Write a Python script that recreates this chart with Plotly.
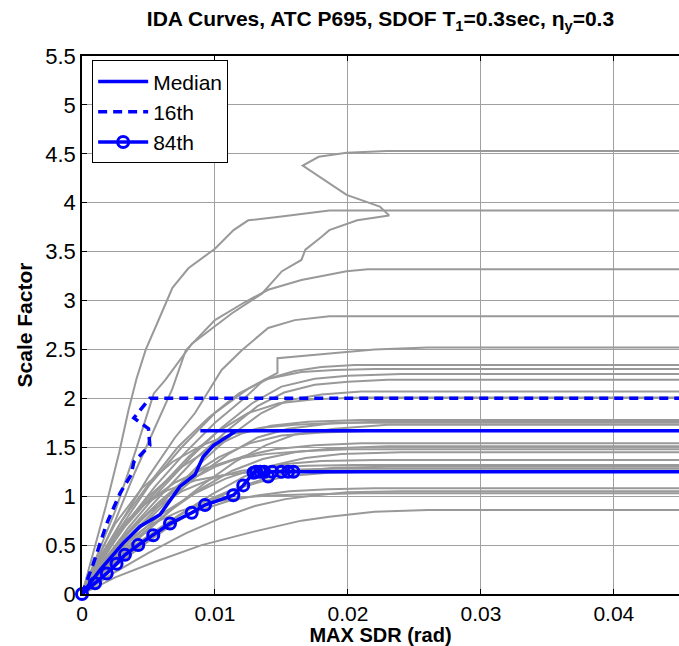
import plotly.graph_objects as go

# ---------------- data ----------------
TITLE = "<b>IDA Curves, ATC P695, SDOF T<sub>1</sub>=0.3sec, η<sub>y</sub>=0.3</b>"
X_LABEL = "<b>MAX SDR (rad)</b>"
Y_LABEL = "<b>Scale Factor</b>"
X_TICKS = [0, 0.01, 0.02, 0.03, 0.04]
X_TICK_TEXT = ["0", "0.01", "0.02", "0.03", "0.04"]
Y_TICKS = [0, 0.5, 1, 1.5, 2, 2.5, 3, 3.5, 4, 4.5, 5, 5.5]
Y_TICK_TEXT = ["0", "0.5", "1", "1.5", "2", "2.5", "3", "3.5", "4", "4.5", "5", "5.5"]

# individual record IDA curves (max SDR, scale factor)
GRAY_X = [
    [0, 0.0008, 0.0018, 0.0028, 0.0035, 0.0041, 0.0048, 0.0056, 0.0062, 0.0068, 0.008, 0.010, 0.0114, 0.0125, 0.015, 0.018, 0.0186, 0.05],
    [0, 0.001, 0.0025, 0.004, 0.0054, 0.00627, 0.00827, 0.01128, 0.01353, 0.01504, 0.0165, 0.0168, 0.018, 0.0186, 0.0207, 0.0231, 0.0224, 0.0199, 0.0166, 0.0178, 0.0199, 0.0229, 0.05],
    [0, 0.001, 0.0025, 0.004, 0.0055, 0.0068, 0.0078, 0.010, 0.0122, 0.014, 0.0165, 0.018, 0.0199, 0.0215, 0.05],
    [0, 0.0012, 0.003, 0.005, 0.007, 0.0085, 0.010, 0.0105, 0.012, 0.014, 0.016, 0.018, 0.0186, 0.05],
    [0, 0.0012, 0.003, 0.005, 0.0075, 0.010, 0.0125, 0.0147, 0.0147, 0.018, 0.022, 0.026, 0.05],
    [0, 0.0013, 0.0032, 0.0055, 0.0078, 0.0100, 0.0122, 0.0137, 0.0160, 0.0180, 0.0205, 0.05],
    [0, 0.0011, 0.003, 0.005, 0.0072, 0.0095, 0.0118, 0.014, 0.0165, 0.019, 0.022, 0.05],
    [0, 0.0015, 0.0035, 0.0058, 0.0082, 0.0105, 0.0128, 0.015, 0.0175, 0.02, 0.024, 0.05],
    [0, 0.0014, 0.0036, 0.006, 0.0085, 0.011, 0.0132, 0.0152, 0.0175, 0.02, 0.023, 0.05],
    [0, 0.0016, 0.004, 0.0065, 0.009, 0.0112, 0.0135, 0.0155, 0.018, 0.021, 0.05],
    [0, 0.0012, 0.0033, 0.0056, 0.008, 0.0102, 0.0125, 0.0148, 0.0175, 0.021, 0.05],
    [0, 0.0012, 0.003, 0.0052, 0.0075, 0.0098, 0.012, 0.0142, 0.017, 0.021, 0.05],
    [0, 0.0016, 0.0038, 0.0062, 0.0086, 0.011, 0.0132, 0.0155, 0.0185, 0.022, 0.05],
    [0, 0.0009, 0.0025, 0.0045, 0.0068, 0.009, 0.0112, 0.0135, 0.016, 0.0195, 0.05],
    [0, 0.0018, 0.0042, 0.0068, 0.0092, 0.0115, 0.0138, 0.016, 0.019, 0.023, 0.05],
    [0, 0.0014, 0.0035, 0.0058, 0.008, 0.0103, 0.0126, 0.015, 0.018, 0.022, 0.05],
    [0, 0.0013, 0.0032, 0.0055, 0.0078, 0.01, 0.0122, 0.0145, 0.0175, 0.021, 0.05],
    [0, 0.0017, 0.004, 0.0065, 0.009, 0.0113, 0.0136, 0.016, 0.019, 0.023, 0.05],
    [0, 0.001, 0.0027, 0.0048, 0.007, 0.0092, 0.0115, 0.0138, 0.0165, 0.02, 0.05],
    [0, 0.002, 0.0045, 0.0072, 0.0098, 0.0122, 0.0145, 0.0168, 0.0195, 0.024, 0.05],
    [0, 0.0015, 0.0036, 0.006, 0.0085, 0.0108, 0.013, 0.0153, 0.018, 0.022, 0.05],
    [0, 0.0012, 0.003, 0.0052, 0.0075, 0.0098, 0.012, 0.0142, 0.017, 0.0205, 0.05],
    [0, 0.0019, 0.0044, 0.007, 0.0095, 0.0118, 0.0142, 0.0165, 0.019, 0.023, 0.05],
    [0, 0.0009, 0.0024, 0.0043, 0.0064, 0.0085, 0.0108, 0.013, 0.0155, 0.019, 0.05],
    [0, 0.0016, 0.0038, 0.0063, 0.0088, 0.0112, 0.0135, 0.0158, 0.0185, 0.022, 0.05],
    [0, 0.0014, 0.0035, 0.006, 0.0085, 0.011, 0.0133, 0.0156, 0.0185, 0.022, 0.05],
    [0, 0.0022, 0.005, 0.0078, 0.0105, 0.013, 0.0153, 0.0176, 0.02, 0.024, 0.05],
    [0, 0.0011, 0.0028, 0.005, 0.0074, 0.0098, 0.0122, 0.0146, 0.0175, 0.021, 0.05],
    [0, 0.0025, 0.0055, 0.009, 0.013, 0.0165, 0.0186, 0.022, 0.026, 0.05],
]
GRAY_Y = [
    [0, 0.4, 0.9, 1.45, 1.88, 2.2, 2.5, 2.75, 2.95, 3.13, 3.33, 3.53, 3.72, 3.82, 3.86, 3.91, 3.92, 3.92],
    [0, 0.35, 0.85, 1.45, 2.05, 2.19, 2.56, 2.87, 3.07, 3.30, 3.415, 3.52, 3.65, 3.72, 3.82, 3.87, 3.96, 4.08, 4.38, 4.47, 4.51, 4.53, 4.53],
    [0, 0.3, 0.75, 1.25, 1.7, 2.1, 2.49, 2.80, 2.98, 3.11, 3.21, 3.25, 3.30, 3.32, 3.32],
    [0, 0.3, 0.75, 1.2, 1.6, 1.85, 2.19, 2.29, 2.49, 2.72, 2.80, 2.83, 2.84, 2.84],
    [0, 0.28, 0.7, 1.1, 1.5, 1.85, 2.1, 2.26, 2.41, 2.45, 2.5, 2.52, 2.52],
    [0, 0.3, 0.7, 1.1, 1.45, 1.75, 2.0, 2.19, 2.28, 2.32, 2.34, 2.34],
    [0, 0.32, 0.75, 1.12, 1.5, 1.8, 2.05, 2.2, 2.27, 2.29, 2.30, 2.30],
    [0, 0.3, 0.68, 1.05, 1.4, 1.7, 1.95, 2.12, 2.2, 2.23, 2.25, 2.25],
    [0, 0.28, 0.66, 1.02, 1.38, 1.68, 1.92, 2.06, 2.14, 2.17, 2.19, 2.19],
    [0, 0.28, 0.65, 1.0, 1.35, 1.62, 1.85, 1.98, 2.04, 2.07, 2.07],
    [0, 0.3, 0.7, 1.05, 1.4, 1.66, 1.85, 1.95, 1.99, 2.01, 2.01],
    [0, 0.3, 0.68, 1.02, 1.3, 1.5, 1.64, 1.72, 1.76, 1.78, 1.78],
    [0, 0.27, 0.6, 0.92, 1.2, 1.43, 1.6, 1.69, 1.74, 1.76, 1.76],
    [0, 0.3, 0.72, 1.08, 1.35, 1.52, 1.63, 1.7, 1.73, 1.75, 1.75],
    [0, 0.25, 0.56, 0.87, 1.13, 1.35, 1.52, 1.63, 1.69, 1.73, 1.73],
    [0, 0.28, 0.62, 0.94, 1.2, 1.4, 1.54, 1.62, 1.65, 1.67, 1.67],
    [0, 0.28, 0.6, 0.9, 1.14, 1.3, 1.41, 1.48, 1.52, 1.54, 1.54],
    [0, 0.26, 0.56, 0.84, 1.08, 1.26, 1.38, 1.45, 1.49, 1.51, 1.51],
    [0, 0.3, 0.64, 0.93, 1.14, 1.28, 1.38, 1.43, 1.46, 1.48, 1.48],
    [0, 0.24, 0.52, 0.8, 1.02, 1.2, 1.32, 1.39, 1.43, 1.45, 1.45],
    [0, 0.25, 0.54, 0.82, 1.03, 1.18, 1.28, 1.33, 1.36, 1.37, 1.37],
    [0, 0.27, 0.58, 0.85, 1.05, 1.18, 1.26, 1.29, 1.31, 1.32, 1.32],
    [0, 0.22, 0.48, 0.73, 0.94, 1.09, 1.2, 1.26, 1.29, 1.30, 1.30],
    [0, 0.27, 0.6, 0.88, 1.06, 1.16, 1.22, 1.25, 1.27, 1.28, 1.28],
    [0, 0.22, 0.48, 0.72, 0.92, 1.06, 1.15, 1.21, 1.24, 1.25, 1.25],
    [0, 0.22, 0.46, 0.68, 0.84, 0.95, 1.01, 1.05, 1.07, 1.08, 1.08],
    [0, 0.2, 0.42, 0.62, 0.78, 0.9, 0.97, 1.01, 1.04, 1.05, 1.05],
    [0, 0.22, 0.48, 0.7, 0.85, 0.94, 0.99, 1.01, 1.02, 1.03, 1.03],
    [0, 0.17, 0.33, 0.5, 0.64, 0.75, 0.79, 0.84, 0.86, 0.86],
]

MEDIAN_X = [0, 0.00135, 0.0031, 0.00436, 0.00586, 0.00737, 0.0085, 0.0091, 0.0099, 0.01163, 0.0089, 0.05]
MEDIAN_Y = [0, 0.245, 0.52, 0.69, 0.81, 1.10, 1.22, 1.40, 1.52, 1.67, 1.67, 1.67]

P16_X = [0, 0.00085, 0.00186, 0.00286, 0.0037, 0.0039, 0.0051, 0.0050, 0.0039, 0.0051, 0.05]
P16_Y = [0, 0.31, 0.72, 1.03, 1.22, 1.35, 1.52, 1.69, 1.80, 2.00, 2.00]

P84_X = [0, 0.00098, 0.00186, 0.0026, 0.00323, 0.00423, 0.00536, 0.00662, 0.00825, 0.00925, 0.01138,
         0.01213, 0.0129, 0.0131, 0.0134, 0.0140, 0.0137, 0.0143, 0.0150, 0.0155, 0.0159, 0.05]
P84_Y = [0, 0.11, 0.21, 0.31, 0.40, 0.50, 0.60, 0.72, 0.83, 0.91, 1.01,
         1.11, 1.24, 1.25, 1.25, 1.20, 1.25, 1.25, 1.25, 1.25, 1.25, 1.25]

# ---------------- figure ----------------
FONT = "Liberation Sans, Arial, Helvetica, sans-serif"
GRAY = "#999999"
BLUE = "#0000FF"

fig = go.Figure()
for gx, gy in zip(GRAY_X, GRAY_Y):
    fig.add_trace(go.Scatter(x=gx, y=gy, mode="lines", line=dict(color=GRAY, width=2),
                             showlegend=False, hoverinfo="skip"))

fig.add_trace(go.Scatter(x=MEDIAN_X, y=MEDIAN_Y, mode="lines", name="Median",
                         line=dict(color=BLUE, width=3.5)))
fig.add_trace(go.Scatter(x=P16_X, y=P16_Y, mode="lines", name="16th",
                         line=dict(color=BLUE, width=3.5, dash="9px,6px")))
fig.add_trace(go.Scatter(x=P84_X, y=P84_Y, mode="lines+markers", name="84th",
                         line=dict(color=BLUE, width=3.5),
                         marker=dict(symbol="circle-open", size=11, color=BLUE,
                                     line=dict(color=BLUE, width=3)),
                         cliponaxis=False))

fig.update_layout(
    width=679, height=646,
    margin=dict(l=82, r=0, t=56, b=52),
    paper_bgcolor="white", plot_bgcolor="white",
    font=dict(family=FONT, size=21, color="black"),
    title=dict(text=TITLE, x=0.5, xref="paper", xanchor="center",
               y=1 - 19 / 646, yref="container", yanchor="middle",
               font=dict(family=FONT, size=21, color="black")),
    showlegend=True,
    legend=dict(x=0.017, y=0.992, xanchor="left", yanchor="top",
                bgcolor="white", bordercolor="black", borderwidth=1,
                font=dict(family=FONT, size=21, color="black"),
                itemwidth=50, tracegroupgap=0),
)
fig.update_xaxes(range=[0, 0.0449], tickvals=X_TICKS, ticktext=X_TICK_TEXT,
                 showgrid=True, gridcolor="#a0a0a0", gridwidth=1,
                 showline=True, linecolor="black", linewidth=1.5, mirror="ticks",
                 ticks="inside", ticklen=5, tickcolor="black", zeroline=False,
                 automargin=False, tickfont=dict(size=21),
                 title=dict(text=X_LABEL, standoff=5, font=dict(family=FONT, size=20)))
fig.update_yaxes(range=[0, 5.5], tickvals=Y_TICKS, ticktext=Y_TICK_TEXT,
                 showgrid=True, gridcolor="#a0a0a0", gridwidth=1,
                 showline=True, linecolor="black", linewidth=1.5,
                 ticks="inside", ticklen=5, tickcolor="black", zeroline=False,
                 automargin=False, tickfont=dict(size=22),
                 title=dict(text=Y_LABEL, standoff=7, font=dict(family=FONT, size=21)))

fig.write_html("out.html")
